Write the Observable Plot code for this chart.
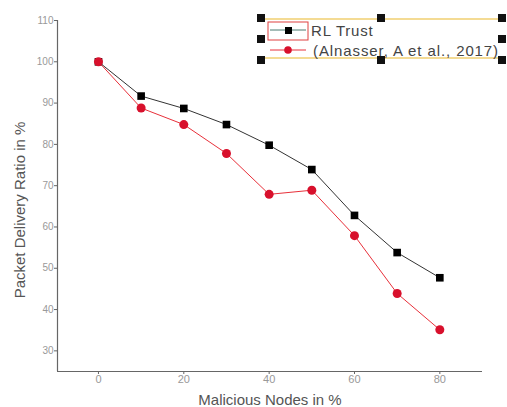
<!DOCTYPE html>
<html>
<head>
<meta charset="utf-8">
<script src="https://cdn.jsdelivr.net/npm/d3@7"></script>
<script src="https://cdn.jsdelivr.net/npm/@observablehq/plot@0.6"></script>
<style>
  html, body { margin: 0; padding: 0; background: #fff; }
  #wrap { position: relative; width: 507px; height: 407px; font-family: "Liberation Sans", Arial, sans-serif; }
  #legend { position: absolute; left: 0; top: 0; }
</style>
</head>
<body>
<div id="wrap"></div>
<script>
const malicious = [0, 10, 20, 30, 40, 50, 60, 70, 80];
const rlTrust   = [100, 91.7, 88.7, 84.8, 79.8, 73.9, 62.8, 53.8, 47.7];
const alnasser  = [100, 88.8, 84.8, 77.8, 67.9, 68.9, 57.9, 43.9, 35.1];
const xTicks = [0, 20, 40, 60, 80];
const yTicks = [30, 40, 50, 60, 70, 80, 90, 100, 110];
const seriesNames = ["RL Trust", "(Alnasser, A et al., 2017)"];

const rl = malicious.map((x, i) => ({x, y: rlTrust[i]}));
const al = malicious.map((x, i) => ({x, y: alnasser[i]}));

const chart = Plot.plot({
  width: 507,
  height: 407,
  marginLeft: 57,
  marginRight: 25,
  marginTop: 20,
  marginBottom: 36,
  style: {fontFamily: "Liberation Sans, Arial, sans-serif", background: "#fff"},
  x: {domain: [-9.6, 90], ticks: xTicks, label: null},
  y: {domain: [25, 110], ticks: yTicks, label: null},
  marks: [
    Plot.axisX({ticks: xTicks, tickSize: 3, tickPadding: 1, fontSize: 11, color: "#999", stroke: "#666", style: "letter-spacing:1px"}),
    Plot.axisY({ticks: yTicks, tickSize: 3, tickPadding: 1, fontSize: 10, color: "#999", stroke: "#666", style: "letter-spacing:0.6px"}),
    Plot.ruleX([-9.6], {stroke: "#666", strokeWidth: 1.2}),
    Plot.ruleY([25], {stroke: "#666", strokeWidth: 1.2}),
    Plot.line(rl, {x: "x", y: "y", stroke: "#333", strokeWidth: 1}),
    Plot.dot(rl, {x: "x", y: "y", symbol: "square", r: 4.3, fill: "#000"}),
    Plot.line(al, {x: "x", y: "y", stroke: "#e8303a", strokeWidth: 1}),
    Plot.dot(al, {x: "x", y: "y", symbol: "circle", r: 4.5, fill: "#d8102c"}),
    Plot.text(["Malicious Nodes in %"], {frameAnchor: "bottom", dy: 33, fontSize: 15, fill: "#555", style: "letter-spacing:1px"}),
    Plot.text(["Packet Delivery Ratio in %"], {frameAnchor: "left", textAnchor: "middle", dx: -37, dy: 14, rotate: -90, fontSize: 15, fill: "#555", style: "letter-spacing:2px"})
  ]
});
document.getElementById("wrap").appendChild(chart);

// Legend overlay (editor-style selection box as in the reference)
const leg = d3.select("#wrap").append("svg")
  .attr("id", "legend").attr("width", 507).attr("height", 407)
  .style("font-family", "Liberation Sans, Arial, sans-serif");
leg.append("line").attr("x1", 261).attr("x2", 502).attr("y1", 19).attr("y2", 19).attr("stroke", "#f0cf70").attr("stroke-width", 1.5);
leg.append("line").attr("x1", 261).attr("x2", 502).attr("y1", 58).attr("y2", 58).attr("stroke", "#f0cf70").attr("stroke-width", 1.5);
leg.append("rect").attr("x", 268).attr("y", 22).attr("width", 40).attr("height", 18).attr("fill", "none").attr("stroke", "#e04040").attr("stroke-width", 1);
leg.append("line").attr("x1", 270).attr("x2", 306).attr("y1", 30).attr("y2", 30).attr("stroke", "#4a7a70").attr("stroke-width", 1);
leg.append("rect").attr("x", 285).attr("y", 27).attr("width", 7).attr("height", 7).attr("fill", "#000");
leg.append("text").attr("x", 311).attr("y", 36).attr("font-size", 15).attr("letter-spacing", "0.8px").attr("fill", "#444").text(seriesNames[0]);
leg.append("line").attr("x1", 270).attr("x2", 306).attr("y1", 50).attr("y2", 50).attr("stroke", "#e8303a").attr("stroke-width", 1);
leg.append("circle").attr("cx", 288).attr("cy", 50).attr("r", 3.8).attr("fill", "#d8102c");
leg.append("text").attr("x", 313).attr("y", 56).attr("font-size", 15).attr("letter-spacing", "0.9px").attr("fill", "#444").text(seriesNames[1]);
const handles = [[261,18],[381,18],[502,18],[261,39],[502,39],[261,60],[381,60],[502,60]];
leg.selectAll("rect.h").data(handles).join("rect").attr("class", "h")
  .attr("x", d => d[0] - 4).attr("y", d => d[1] - 4).attr("width", 8).attr("height", 8).attr("fill", "#111");
</script>
</body>
</html>
